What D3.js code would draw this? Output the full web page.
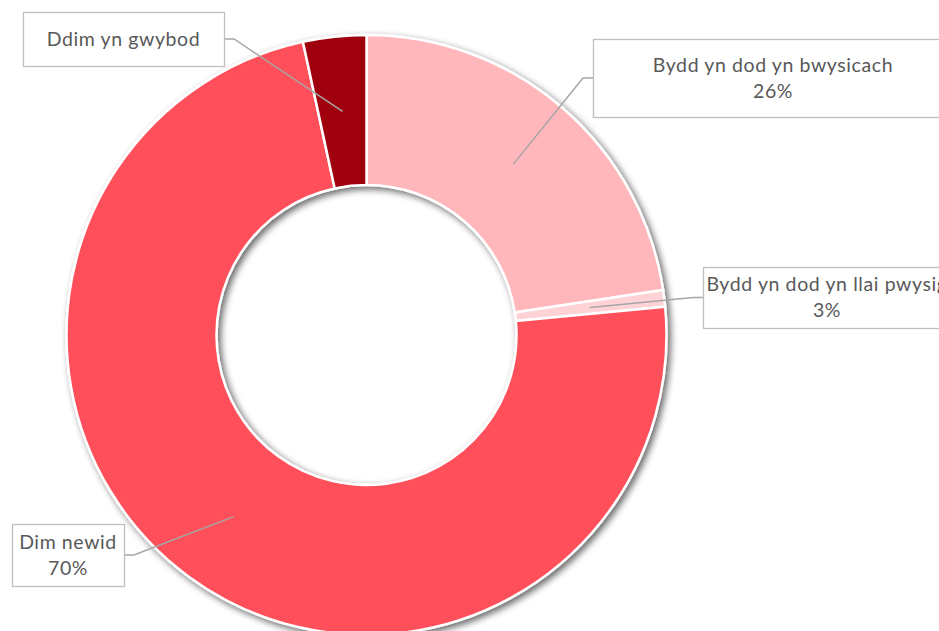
<!DOCTYPE html>
<html>
<head>
<meta charset="utf-8">
<script src="https://cdn.jsdelivr.net/npm/d3@7"></script>
<style>
  html, body { margin: 0; padding: 0; background: #fff; overflow: hidden; }
  svg { display: block; }
  .lbl text { font-family: Lato, "Open Sans", sans-serif; font-size: 19.5px; letter-spacing: 0.6px; fill: #595959; }
</style>
</head>
<body>
<div id="chart"></div>
<script>
var svgWidth = 939;
var svgHeight = 631;

// slice data (share of the ring)
var categories = ["Bydd yn dod yn bwysicach", "Bydd yn dod yn llai pwysig", "Dim newid", "Ddim yn gwybod"];
var values = [22.6, 0.9, 73.1, 3.4];
var pctLabels = ["26%", "3%", "70%", ""];
var colors = ["#ffb7bb", "#ffd3d6", "#ff4f5a", "#a00009"];

// label box layout: box x, y, w, h and which side the leader joins
var boxes = [
  {x: 593, y: 39, w: 360, h: 78, side: "left"},
  {x: 703, y: 267, w: 248, h: 61, side: "left"},
  {x: 12, y: 524, w: 112, h: 62, side: "right"},
  {x: 23, y: 12, w: 201, h: 54, side: "right"}
];

var cx = 366.5, cy = 335;
var outerR = 300, innerR = 150;

var svg = d3.select("#chart")
  .append("svg")
  .attr("width", svgWidth)
  .attr("height", svgHeight);

// drop shadow under the ring
var defs = svg.append("defs");
var filter = defs.append("filter")
  .attr("id", "shadow")
  .attr("x", "-20%").attr("y", "-20%")
  .attr("width", "140%").attr("height", "140%");
filter.append("feGaussianBlur").attr("in", "SourceAlpha").attr("stdDeviation", 3.5).attr("result", "blur");
filter.append("feOffset").attr("in", "blur").attr("dx", 3).attr("dy", 3).attr("result", "off");
filter.append("feComponentTransfer").attr("in", "off").attr("result", "shade")
  .append("feFuncA").attr("type", "linear").attr("slope", 0.6);
var merge = filter.append("feMerge");
merge.append("feMergeNode").attr("in", "shade");
merge.append("feMergeNode").attr("in", "SourceGraphic");

var pie = d3.pie().sort(null).value(d => d);
var arcs = pie(values);

var arc = d3.arc()
  .innerRadius(innerR)
  .outerRadius(outerR);

var chartGroup = svg.append("g")
  .attr("transform", `translate(${cx}, ${cy})`);

chartGroup.append("g")
  .attr("filter", "url(#shadow)")
  .selectAll("path")
  .data(arcs)
  .enter()
  .append("path")
  .attr("d", arc)
  .attr("fill", (d, i) => colors[i])
  .attr("stroke", "#fff")
  .attr("stroke-width", 2.5)
  .attr("stroke-linejoin", "round");

// leader lines from slice centroid to label box
arcs.forEach((d, i) => {
  var c = arc.centroid(d);
  var b = boxes[i];
  var ly = b.y + b.h / 2;
  var edgeX = b.side === "left" ? b.x : b.x + b.w;
  var elbowX = b.side === "left" ? b.x - 10 : b.x + b.w + 10;
  svg.append("polyline")
    .attr("points", `${cx + c[0]},${cy + c[1]} ${elbowX},${ly} ${edgeX},${ly}`)
    .attr("fill", "none")
    .attr("stroke", "#a6a6a6")
    .attr("stroke-width", 1.5);
});

// label boxes
var lbl = svg.selectAll("g.lbl")
  .data(arcs)
  .enter()
  .append("g")
  .attr("class", "lbl");

lbl.append("rect")
  .attr("x", (d, i) => boxes[i].x + 0.5)
  .attr("y", (d, i) => boxes[i].y + 0.5)
  .attr("width", (d, i) => boxes[i].w)
  .attr("height", (d, i) => boxes[i].h)
  .attr("fill", "#fff")
  .attr("stroke", "#bfbfbf")
  .attr("stroke-width", 1.3);

lbl.each(function(d, i) {
  var b = boxes[i];
  var g = d3.select(this);
  var lines = pctLabels[i] ? [categories[i], pctLabels[i]] : [categories[i]];
  var lineH = 26;
  var top = b.y + b.h / 2 - (lines.length - 1) * lineH / 2;
  lines.forEach((t, k) => {
    g.append("text")
      .attr("x", b.x + b.w / 2)
      .attr("y", top + k * lineH)
      .attr("dy", "0.35em")
      .attr("text-anchor", "middle")
      .text(t);
  });
});
</script>
</body>
</html>
